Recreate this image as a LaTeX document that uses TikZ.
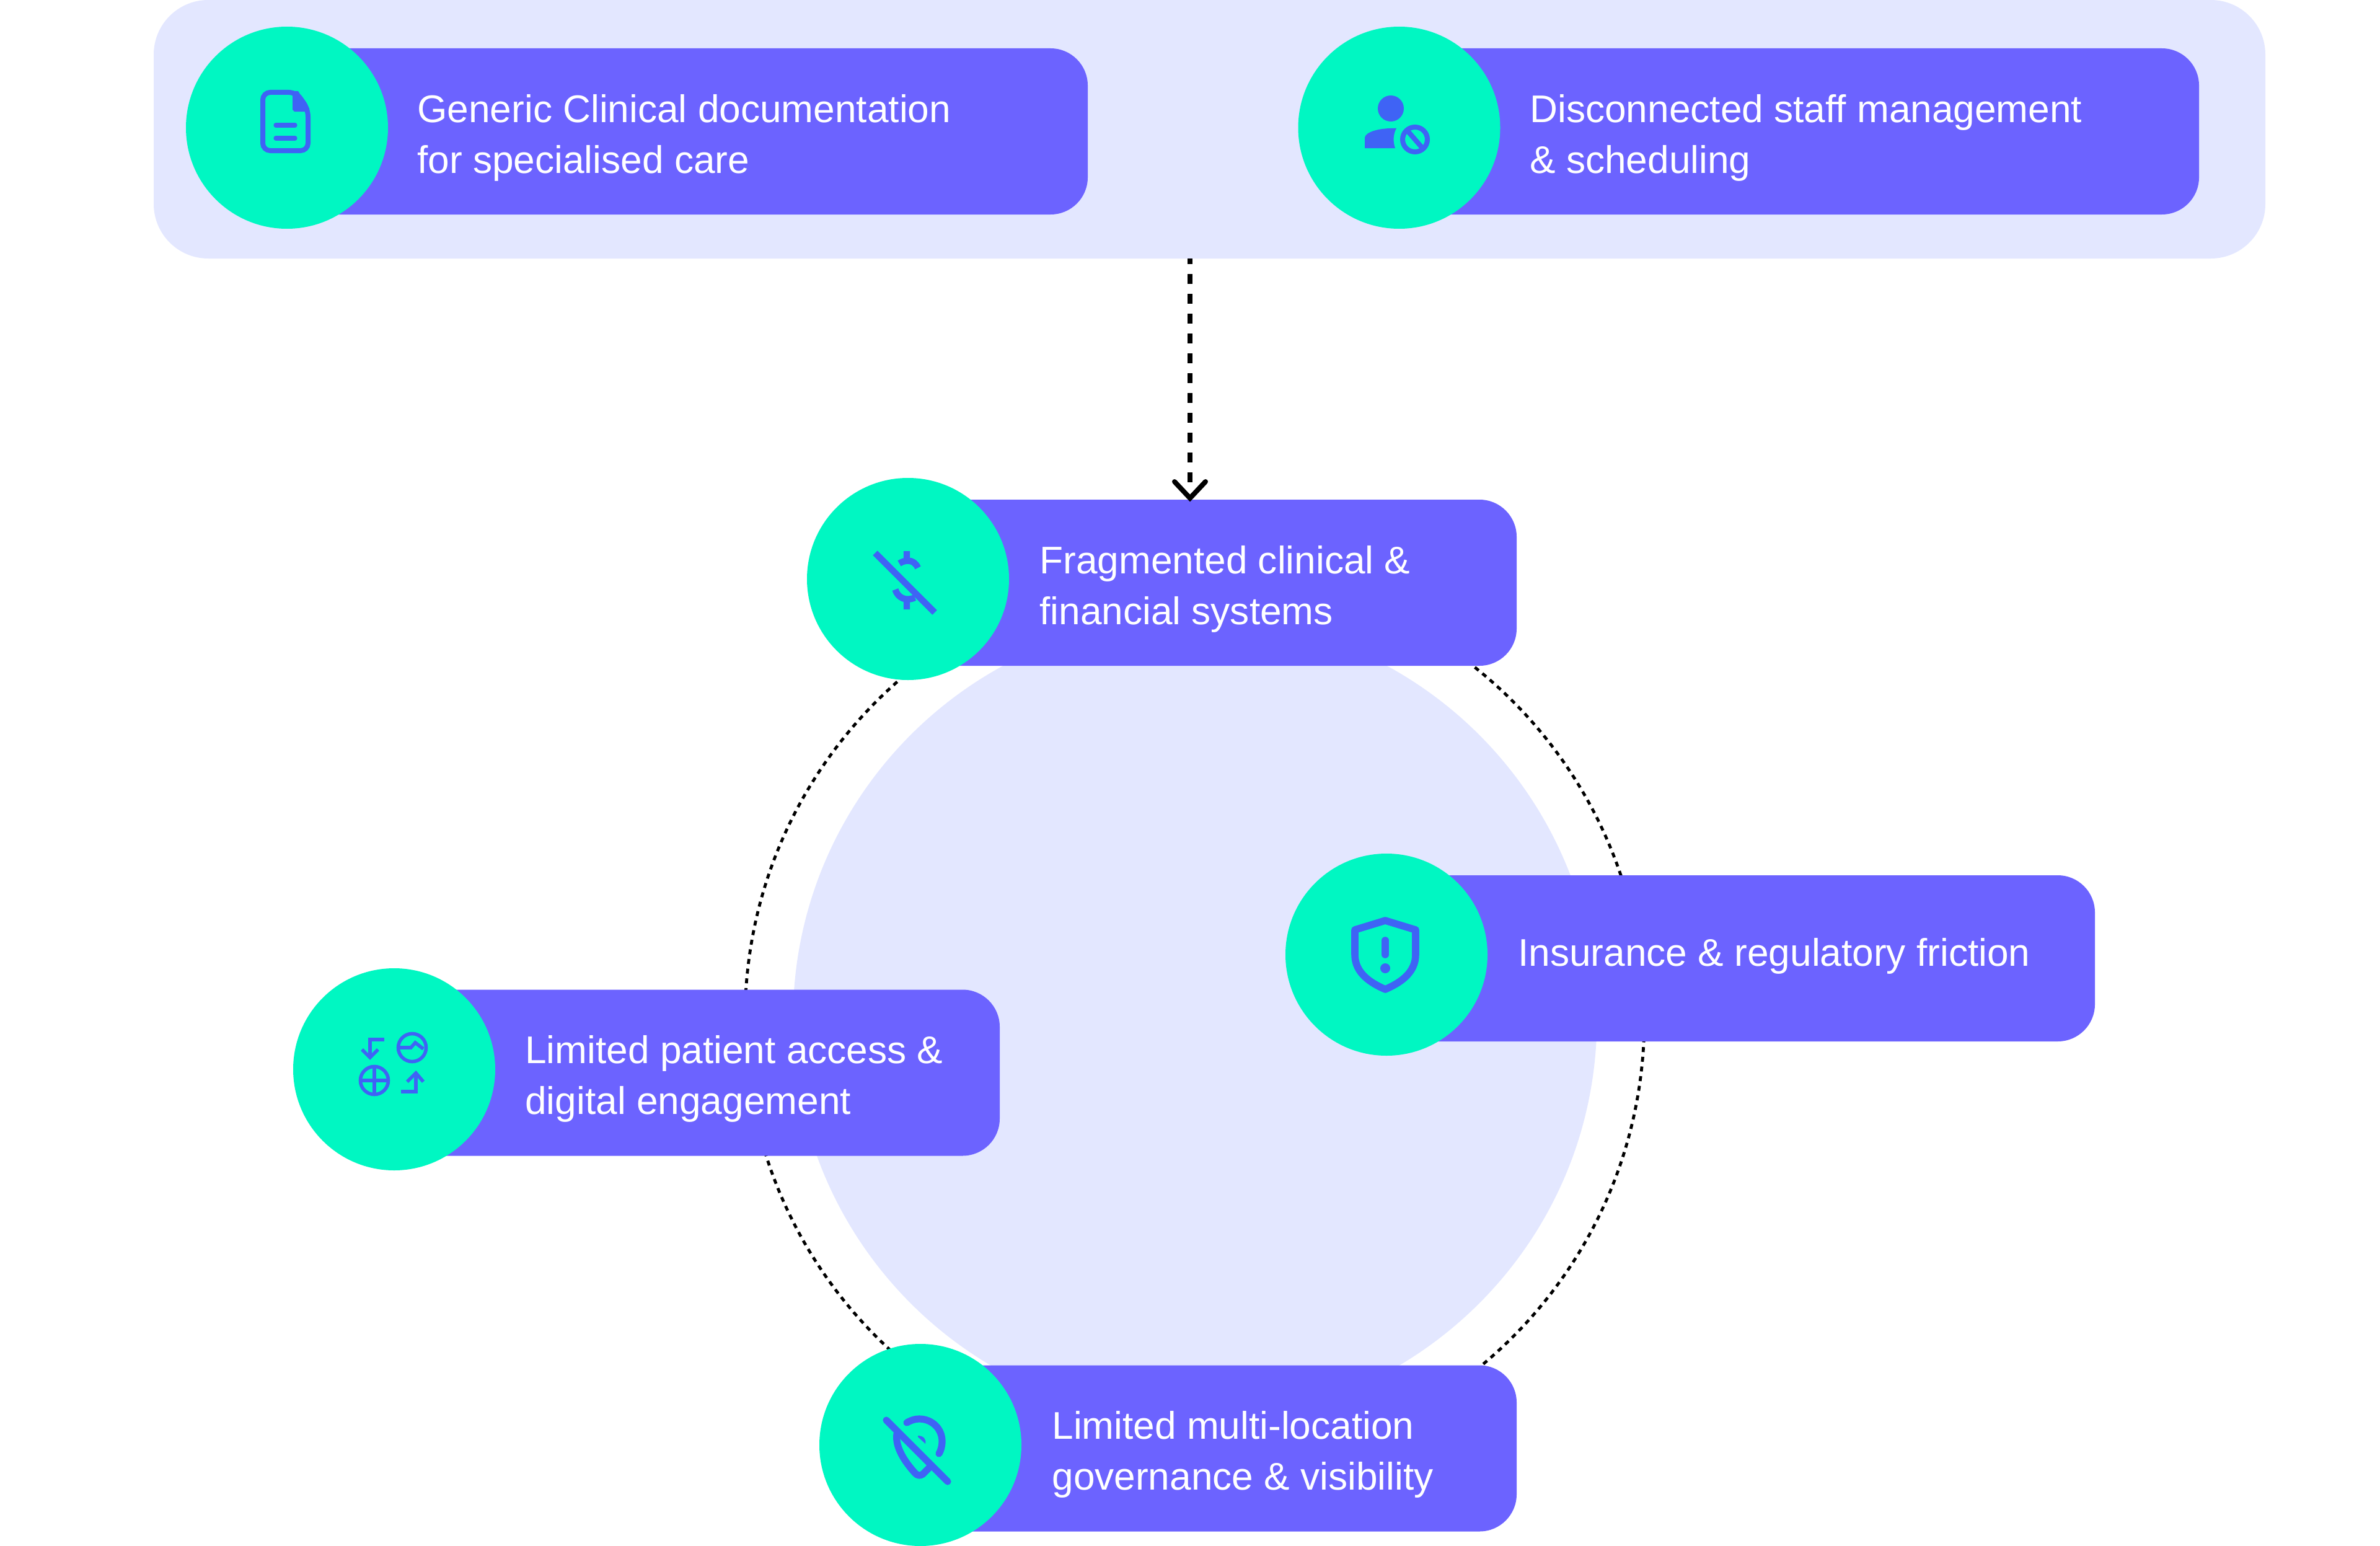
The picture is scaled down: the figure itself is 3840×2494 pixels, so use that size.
\documentclass[tikz,border=0pt]{standalone}
\usepackage{fontspec}
\setmainfont{Liberation Sans}
\definecolor{panelc}{HTML}{E3E7FF}
\definecolor{barc}{HTML}{6C63FF}
\definecolor{discc}{HTML}{00F7C2}
\definecolor{iconc}{HTML}{3F63F5}
\tikzset{
  panelbox/.style={rectangle,fill=panelc,draw=none,rounded corners=44pt,inner sep=0pt,minimum width=1703.5pt,minimum height=208.5pt},
  barbox/.style={rectangle,fill=barc,draw=none,rounded corners=30pt,inner sep=0pt,minimum height=134pt},
  disc/.style={circle,fill=discc,draw=none,minimum size=163pt,inner sep=0pt},
  lab/.style={text=white,anchor=base west,align=left,inner sep=0pt,font=\fontsize{31.1}{41}\selectfont},
  icb/.style={draw=iconc,line width=2.8pt,line cap=butt,line join=miter},
  icr/.style={draw=iconc,line width=3.8pt,line cap=round,line join=round},
  icf/.style={fill=iconc,draw=none},
}
\begin{document}
\begin{tikzpicture}[x=0.5pt,y=-0.5pt]
\useasboundingbox (0,0) rectangle (3840,2494);
\fill[white] (0,0) rectangle (3840,2494);
\node[panelbox] (panel) at (1951.5,208.5) {};
\node[circle,fill=panelc,minimum size=648.5pt,inner sep=0pt] (bigc) at (1928,1644) {};
\node[circle,draw=black,line width=2.4pt,dash pattern=on 4pt off 3.85pt,minimum size=725.5pt,inner sep=0pt] (ring) at (1927.5,1644) {};
% bars
\node[barbox,minimum width=646pt] (b1) at (1109,212) {};
\node[barbox,minimum width=645pt] (b2) at (2903,212) {};
\node[barbox,minimum width=491pt] (b3) at (1956,940) {};
\node[barbox,minimum width=571.5pt] (b4) at (2808.5,1546) {};
\node[barbox,minimum width=488.5pt] (b5) at (1124.5,1730.5) {};
\node[barbox,minimum width=481pt] (b6) at (1966,2336.5) {};
% discs
\node[disc] (d1) at (463,206) {};
\node[disc] (d2) at (2257.5,206) {};
\node[disc] (d3) at (1465,934) {};
\node[disc] (d4) at (2237,1540) {};
\node[disc] (d5) at (636,1725) {};
\node[disc] (d6) at (1485,2331) {};
% labels
\node[lab] (t1) at (673,279) {Generic Clinical documentation\\for specialised care};
\node[lab] (t2) at (2468,279) {Disconnected staff management\\\& scheduling};
\node[lab] (t3) at (1677,1007) {Fragmented clinical \&\\financial systems};
\node[lab] (t4) at (2449,1558) {Insurance \& regulatory friction};
\node[lab] (t5) at (847,1797) {Limited patient access \&\\digital engagement};
\node[lab] (t6) at (1697,2403) {Limited multi-location\\governance \& visibility};
% arrow
\coordinate (a0) at (1920,0 |- panel.south);
\coordinate (a1) at (1920,0 |- b3.north);
\draw[black,line width=4pt,dash pattern=on 8pt off 8pt,dash phase=3.6pt] (a0) -- ([yshift=14pt]a1);
\draw[black,line width=4pt,line cap=round,line join=miter] (1895,777) -- ([yshift=1pt]a1) -- (1945,777);
% icon 1: document
\draw[icb,line width=4pt,rounded corners=6pt] (424,149) -- (478,149) -- (497,176) -- (497,243) -- (424,243) -- cycle;
\fill[icf] (472,147) -- (481,147) -- (499,175) -- (499,180) -- (475,180) -- (472,177) -- cycle;
\draw[icr,line width=3.6pt] (445,202) -- (476,202) (445,223) -- (476,223);
% icon 2: person
\fill[icf] (2244,175) circle [radius=21];
\fill[icf] (2202,239) -- (2202,222) .. controls (2203,213) and (2225,206) .. (2253,207) .. controls (2248,216) and (2247,228) .. (2251,239) -- cycle;
\draw[icb,line width=4pt] (2283,225) circle [radius=20];
\draw[icb,line width=4pt] (2270,210) -- (2296,240);
% icon 3: crossed dollar
\draw[icb,line width=5.2pt] (1412,892) -- (1508,988);
\draw[icb,line width=5.2pt] (1463,889) -- (1463,905) (1451,909) .. controls (1458,904) and (1474,900) .. (1481,916);
\draw[icb,line width=5.2pt] (1444.5,951) .. controls (1448,964) and (1462,971) .. (1476,964) (1463,968) -- (1463,983);
% icon 4: shield
\draw[icr,line width=5.8pt] (2235,1485) -- (2284,1500) -- (2284,1540) .. controls (2284,1570) and (2258,1586) .. (2235,1596) .. controls (2212,1586) and (2186,1570) .. (2186,1540) -- (2186,1500) -- cycle;
\draw[icr,line width=5.8pt] (2235,1517) -- (2235,1540);
\fill[icf] (2235,1562) circle [radius=8];
% icon 5: four glyphs
\draw[icb] (620,1677) -- (597,1677) -- (597,1705);
\draw[icb] (584,1693) -- (597,1706) -- (610,1693);
\draw[icb] (665,1690) circle [radius=22.5];
\draw[icb] (643,1690) -- (663,1690) -- (670,1682) -- (683,1692);
\draw[icb] (604,1743) circle [radius=22.5];
\draw[icb] (581.5,1743) -- (626.5,1743) (604,1720.5) -- (604,1765.5);
\draw[icb] (647,1761) -- (671,1761) -- (671,1733);
\draw[icb] (657,1745) -- (671,1731) -- (683,1745);
% icon 6: crossed pin
\draw[icr,line width=5.6pt] (1430,2291) -- (1529,2390);
\draw[icr,line width=5.6pt] (1463,2295) .. controls (1472,2290) and (1478,2289) .. (1483,2289) .. controls (1504,2289) and (1520,2305) .. (1520,2325) .. controls (1520,2333) and (1518,2340) .. (1515,2345);
\draw[icr,line width=5.6pt] (1447,2313) .. controls (1444,2335) and (1460,2358) .. (1476,2376) .. controls (1480,2381) and (1485,2381) .. (1489,2378) -- (1500,2367);
\fill[icf] (1481,2318) -- (1493,2329) .. controls (1495,2322) and (1490,2316) .. (1481,2316) -- cycle;
\end{tikzpicture}
\end{document}
